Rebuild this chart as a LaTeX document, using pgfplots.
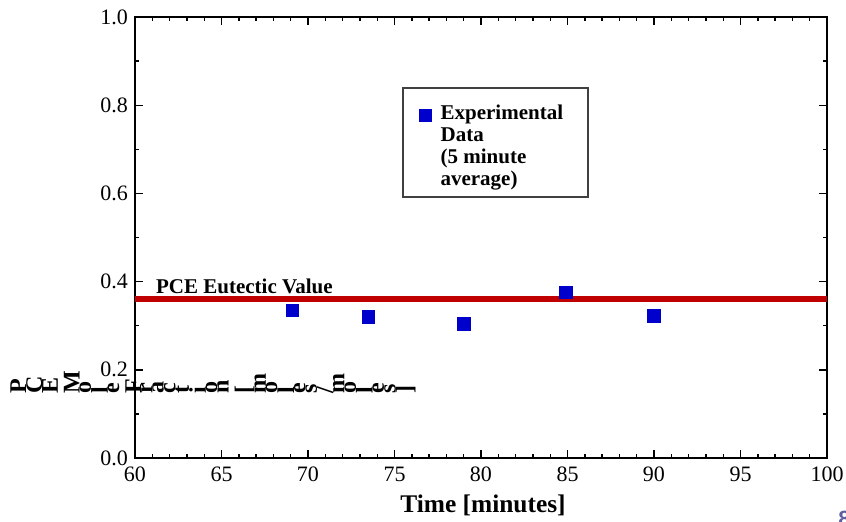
\documentclass[border=0pt]{standalone}
\usepackage{pgfplots}
\pgfplotsset{compat=1.18}
\usepackage{fontspec}
\setmainfont{Liberation Serif}
\setsansfont{Liberation Sans}
\usepackage{graphicx}
\definecolor{ptblue}{RGB}{0,0,205}
\definecolor{eutred}{RGB}{192,0,0}
\definecolor{slidepurple}{RGB}{95,95,160}
\newcommand\rt[1]{\rotatebox{90}{#1}}

\begin{document}
\begin{tikzpicture}
\path[use as bounding box] (-67.5pt,-31.5pt) rectangle (355.5pt,229pt);
\begin{axis}[
  scale only axis,
  width=346pt, height=220.5pt,
  xmin=60, xmax=100, ymin=0, ymax=1,
  xtick={60,65,70,75,80,85,90,95,100},
  ytick={0,0.2,0.4,0.6,0.8,1.0},
  minor x tick num=4,
  minor y tick num=1,
  tick align=inside,
  major tick length=4pt,
  minor tick length=2.2pt,
  axis line style={line width=0.9pt},
  tick style={line width=0.7pt, black},
  ticklabel style={font=\fontsize{11}{12}\selectfont},
  xticklabel style={yshift=-1pt},
  /pgf/number format/assume math mode=true,
  yticklabel style={/pgf/number format/.cd, fixed, fixed zerofill, precision=1},
  xlabel={Time [minutes]},
  xlabel style={font=\fontsize{12.7}{15}\selectfont\bfseries, at={(axis description cs:0.5,0)}, anchor=base, yshift=-27pt, xshift=1pt},
  legend style={at={(0.387,0.839)}, anchor=north west, draw=none, fill=none,
    inner xsep=8pt, inner ysep=6pt, column sep=2.5pt,
    font=\fontsize{10.5}{11}\selectfont\bfseries,
    cells={anchor=base west, inner sep=0pt}},
  legend image code/.code={\draw[#1] plot coordinates {(3.25pt,2.25pt)};},
]
% eutectic value
\addplot[eutred, line width=3pt, forget plot] coordinates {(60,0.36) (100,0.36)};
% 5-minute averages
\addplot[only marks, mark=square*, mark size=3.1pt, color=ptblue, mark options={line width=0.4pt}] coordinates {
  (69.1,0.335)
  (73.5,0.320)
  (79.0,0.304)
  (84.9,0.376)
  (90.0,0.322)
};
\addlegendentry{\begin{tabular}[t]{@{}p{65pt}@{}}Experimental\\Data\\(5 minute\\average)\end{tabular}}
% legend frame
\draw[black!75, line width=0.6pt] (rel axis cs:0.3873,0.5918) rectangle (rel axis cs:0.6546,0.839);
\node[anchor=base west, inner sep=0pt, font=\fontsize{10.5}{12}\selectfont\bfseries] at (axis cs:61.2,0.374) {PCE Eutectic Value};
\end{axis}
\node[anchor=base west, inner sep=0pt, font=\fontsize{12}{14}\selectfont\bfseries] at (-62.5pt,32.5pt)
  {\rt{P}\rt{C}\rt{E}\hspace{3pt}\rt{M}\rt{o}\rt{l}\rt{e}\hspace{3pt}\rt{F}\rt{r}\rt{a}\rt{c}\rt{t}\rt{i}\rt{o}\rt{n}\hspace{3pt}\rt{[}\rt{m}\rt{o}\rt{l}\rt{e}\rt{s}\rt{/}\rt{m}\rt{o}\rt{l}\rt{e}\rt{s}\rt{]}};
\node[anchor=north west, inner sep=0pt, text=slidepurple, font=\sffamily\bfseries\fontsize{11}{12}\selectfont] at (351.5pt,-26.5pt) {8};
\end{tikzpicture}
\end{document}
